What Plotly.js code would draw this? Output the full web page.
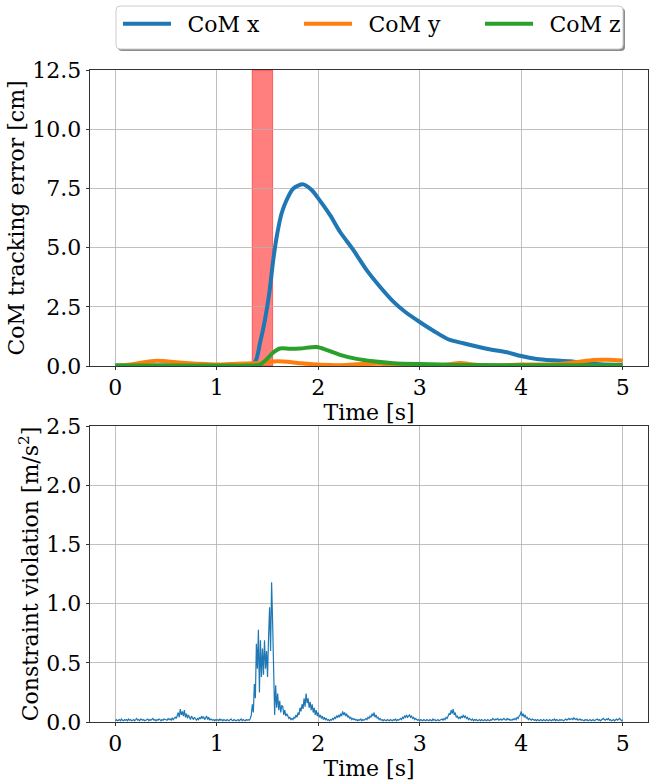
<!DOCTYPE html>
<html>
<head>
<meta charset="utf-8">
<script src="https://cdn.plot.ly/plotly-3.0.1.min.js"></script>
<style>html,body{margin:0;padding:0;background:#fff;}</style>
</head>
<body>
<div id="chart" style="width:658px;height:784px;"></div>
<script>
// ---- Top panel: CoM tracking error [cm] ----
const comXTime = [0, 0.5, 1.0, 1.3, 1.378, 1.425, 1.474, 1.517, 1.556, 1.596, 1.639, 1.688, 1.754, 1.852, 1.935, 2.0, 2.115, 2.214, 2.345, 2.477, 2.608, 2.74, 2.855, 2.996, 3.134, 3.28, 3.43, 3.66, 3.858, 4.0, 4.154, 4.318, 4.48, 4.61, 4.78, 5.0];
const comX     = [0.02, 0.02, 0.02, 0.03, 0.18, 0.96, 1.94, 3.07, 4.48, 5.6, 6.45, 7.01, 7.5, 7.67, 7.43, 7.08, 6.38, 5.67, 4.9, 4.05, 3.35, 2.72, 2.29, 1.87, 1.49, 1.13, 0.96, 0.73, 0.58, 0.42, 0.3, 0.24, 0.2, 0.13, 0.07, 0.05];

const comYTime = [0, 0.2, 0.406, 0.6, 0.8, 1.0, 1.2, 1.35, 1.45, 1.556, 1.655, 1.82, 2.02, 2.21, 2.38, 2.6, 2.8, 3.07, 3.25, 3.40, 3.55, 3.8, 4.0, 4.32, 4.55, 4.71, 4.85, 5.0];
const comY     = [0.0, 0.1, 0.22, 0.16, 0.1, 0.06, 0.1, 0.12, 0.12, 0.19, 0.19, 0.12, 0.05, 0.03, 0.07, 0.09, 0.06, 0.03, 0.05, 0.13, 0.05, 0.03, 0.06, 0.07, 0.17, 0.25, 0.26, 0.23];

const comZTime = [0, 0.5, 1.0, 1.3, 1.425, 1.49, 1.556, 1.622, 1.72, 1.82, 1.984, 2.08, 2.214, 2.378, 2.54, 2.74, 3.0, 3.2, 3.5, 4.0, 4.5, 5.0];
const comZ     = [0.02, 0.02, 0.02, 0.02, 0.06, 0.28, 0.57, 0.74, 0.73, 0.74, 0.8, 0.68, 0.47, 0.3, 0.2, 0.12, 0.08, 0.06, 0.04, 0.03, 0.03, 0.03];

const pushStart = 1.349, pushEnd = 1.55;

// ---- Bottom panel: constraint violation [m/s^2], sampled every 0.01 s ----
const sampleStep = 0.01;
const violation = [
  0.01,0.02,0.01,0.015,0.02,0.01,0.025,0.015,0.01,0.02,
  0.015,0.02,0.01,0.025,0.015,0.02,0.01,0.015,0.02,0.01,
  0.02,0.03,0.015,0.02,0.01,0.025,0.02,0.015,0.02,0.01,
  0.015,0.02,0.025,0.01,0.02,0.015,0.02,0.03,0.015,0.02,
  0.01,0.02,0.015,0.025,0.02,0.01,0.02,0.015,0.025,0.02,
  0.02,0.015,0.03,0.02,0.025,0.015,0.035,0.02,0.03,0.04,
  0.03,0.05,0.08,0.04,0.11,0.06,0.09,0.05,0.1,0.04,
  0.07,0.03,0.06,0.04,0.02,0.05,0.03,0.02,0.04,0.02,
  0.015,0.03,0.02,0.04,0.025,0.05,0.03,0.045,0.02,0.035,
  0.05,0.02,0.04,0.015,0.025,0.02,0.015,0.02,0.01,0.02,
  0.015,0.02,0.01,0.025,0.015,0.02,0.01,0.02,0.015,0.01,
  0.02,0.015,0.01,0.02,0.025,0.015,0.01,0.02,0.015,0.01,
  0.015,0.02,0.01,0.015,0.025,0.01,0.02,0.015,0.01,0.02,
  0.015,0.02,0.015,0.03,0.06,0.15,0.08,0.32,0.2,0.66,
  0.45,0.78,0.25,0.69,0.38,0.62,0.4,0.69,0.45,0.6,
  0.38,0.72,0.97,0.6,1.18,0.84,0.55,0.06,0.31,0.12,
  0.24,0.1,0.18,0.08,0.14,0.13,0.06,0.1,0.05,0.07,
  0.05,0.03,0.04,0.02,0.03,0.02,0.04,0.03,0.06,0.04,
  0.08,0.06,0.12,0.09,0.15,0.11,0.2,0.13,0.24,0.16,
  0.2,0.12,0.17,0.1,0.15,0.08,0.12,0.06,0.1,0.05,
  0.08,0.04,0.06,0.03,0.05,0.02,0.04,0.02,0.03,0.015,
  0.02,0.01,0.02,0.015,0.03,0.02,0.04,0.03,0.05,0.04,
  0.06,0.04,0.07,0.05,0.09,0.06,0.08,0.05,0.07,0.04,
  0.05,0.03,0.04,0.02,0.03,0.02,0.025,0.015,0.02,0.01,
  0.02,0.015,0.025,0.01,0.02,0.015,0.02,0.03,0.02,0.04,
  0.03,0.05,0.04,0.07,0.05,0.08,0.04,0.06,0.03,0.04,
  0.02,0.03,0.015,0.02,0.01,0.02,0.015,0.01,0.02,0.015,
  0.01,0.02,0.015,0.01,0.02,0.015,0.025,0.01,0.02,0.015,
  0.02,0.03,0.02,0.04,0.03,0.05,0.04,0.06,0.04,0.05,
  0.06,0.04,0.05,0.03,0.04,0.02,0.03,0.02,0.015,0.02,
  0.01,0.02,0.015,0.01,0.02,0.015,0.01,0.02,0.015,0.01,
  0.02,0.015,0.01,0.025,0.015,0.02,0.01,0.015,0.02,0.01,
  0.015,0.02,0.025,0.015,0.03,0.02,0.04,0.03,0.05,0.07,
  0.06,0.1,0.07,0.11,0.06,0.08,0.04,0.05,0.03,0.04,
  0.03,0.05,0.035,0.06,0.04,0.05,0.03,0.04,0.02,0.03,
  0.02,0.015,0.025,0.01,0.02,0.015,0.02,0.01,0.015,0.02,
  0.01,0.02,0.015,0.01,0.02,0.015,0.01,0.02,0.015,0.01,
  0.02,0.015,0.03,0.02,0.015,0.025,0.02,0.03,0.015,0.02,
  0.025,0.015,0.02,0.03,0.02,0.015,0.03,0.02,0.025,0.015,
  0.02,0.015,0.025,0.02,0.03,0.02,0.04,0.03,0.05,0.06,
  0.09,0.05,0.07,0.04,0.06,0.03,0.04,0.02,0.03,0.02,
  0.015,0.025,0.02,0.015,0.02,0.01,0.02,0.015,0.01,0.02,
  0.015,0.01,0.02,0.015,0.01,0.02,0.015,0.01,0.02,0.015,
  0.01,0.02,0.015,0.025,0.01,0.02,0.015,0.01,0.02,0.015,
  0.02,0.015,0.01,0.02,0.025,0.015,0.02,0.03,0.02,0.025,
  0.03,0.02,0.035,0.025,0.02,0.03,0.015,0.02,0.025,0.015,
  0.02,0.015,0.01,0.02,0.015,0.02,0.01,0.015,0.02,0.01,
  0.015,0.02,0.01,0.015,0.02,0.025,0.015,0.02,0.01,0.015,
  0.02,0.03,0.02,0.015,0.025,0.02,0.03,0.015,0.02,0.01,
  0.015,0.02,0.01,0.02,0.025,0.015,0.02,0.03,0.02,0.01,
  0.02
];
const violationTime = violation.map((_, i) => +(i * sampleStep).toFixed(2));

const xTickVals = [0, 1, 2, 3, 4, 5];
const xTickText = ['0', '1', '2', '3', '4', '5'];
const seriesNames = ['CoM x', 'CoM y', 'CoM z'];

const colors = {x: '#1f77b4', y: '#ff7f0e', z: '#2ca02c'};
const pad = '\u00A0\u2009';

// ---- traces ----
const traces = [
  {x: comXTime, y: comX, name: pad + seriesNames[0], type: 'scatter', mode: 'lines',
   line: {color: colors.x, width: 4, shape: 'spline', smoothing: 0.8}, xaxis: 'x', yaxis: 'y'},
  {x: comYTime, y: comY, name: pad + seriesNames[1], type: 'scatter', mode: 'lines',
   line: {color: colors.y, width: 4, shape: 'spline', smoothing: 0.8}, xaxis: 'x', yaxis: 'y'},
  {x: comZTime, y: comZ, name: pad + seriesNames[2], type: 'scatter', mode: 'lines',
   line: {color: colors.z, width: 4, shape: 'spline', smoothing: 0.8}, xaxis: 'x', yaxis: 'y'},
  {x: violationTime, y: violation, name: 'violation', type: 'scatter', mode: 'lines',
   line: {color: colors.x, width: 1.2}, xaxis: 'x2', yaxis: 'y2', showlegend: false}
];

// ---- layout helpers (pixel -> paper) ----
const M = {l: 90, r: 10, t: 70, b: 62, autoexpand: false};
const W = 658, H = 784;
const PW = W - M.l - M.r, PH = H - M.t - M.b;
const px2x = px => (px - M.l) / PW;
const px2y = py => (H - M.b - py) / PH;
function roundRect(x0, y0, x1, y1, r) {
  const X = px2x, Y = px2y;
  return `M${X(x0 + r)},${Y(y0)} L${X(x1 - r)},${Y(y0)} Q${X(x1)},${Y(y0)} ${X(x1)},${Y(y0 + r)} ` +
         `L${X(x1)},${Y(y1 - r)} Q${X(x1)},${Y(y1)} ${X(x1 - r)},${Y(y1)} ` +
         `L${X(x0 + r)},${Y(y1)} Q${X(x0)},${Y(y1)} ${X(x0)},${Y(y1 - r)} ` +
         `L${X(x0)},${Y(y0 + r)} Q${X(x0)},${Y(y0)} ${X(x0 + r)},${Y(y0)} Z`;
}

const FONT = 'DejaVu Serif, Liberation Serif, serif';
function xAxis(anchor) {
  return {
    anchor: anchor, domain: [0, 1], range: [-0.25, 5.25],
    tickvals: xTickVals, ticktext: xTickText,
    showgrid: true, gridcolor: '#b0b0b0', gridwidth: 0.8,
    showline: true, linecolor: '#000', linewidth: 0.8, mirror: true,
    ticks: 'outside', ticklen: 3.5, tickwidth: 0.8, tickcolor: '#000',
    ticklabelstandoff: -2,
    zeroline: false, automargin: false,
    tickfont: {family: FONT, size: 22, color: '#000'},
    title: {text: 'Time [s]', font: {family: FONT, size: 22, color: '#000'}, standoff: 3}
  };
}
function yAxis(anchor, domain, range, dtick, title) {
  return {
    anchor: anchor, domain: domain, range: range, dtick: dtick, tick0: 0, tickformat: '.1f',
    showgrid: true, gridcolor: '#b0b0b0', gridwidth: 0.8,
    showline: true, linecolor: '#000', linewidth: 0.8, mirror: true,
    ticks: 'outside', ticklen: 3.5, tickwidth: 0.8, tickcolor: '#000',
    zeroline: false, automargin: false,
    tickfont: {family: FONT, size: 22, color: '#000'},
    title: {text: title, font: {family: FONT, size: 22, color: '#000'}, standoff: 1}
  };
}

const layout = {
  width: W, height: H,
  margin: M,
  paper_bgcolor: '#fff', plot_bgcolor: '#fff',
  font: {family: FONT, size: 22, color: '#000'},
  hovermode: false,
  xaxis: xAxis('y'),
  yaxis: yAxis('x', [px2y(366), 1], [0, 12.5], 2.5, 'CoM tracking error [cm]'),
  xaxis2: xAxis('y2'),
  yaxis2: yAxis('x2', [0, px2y(426)], [0, 2.5], 0.5, 'Constraint violation [m/s<sup>2</sup>]'),
  showlegend: true,
  legend: {
    orientation: 'h', x: px2x(118), y: px2y(3), xanchor: 'left', yanchor: 'top',
    bgcolor: 'rgba(0,0,0,0)', borderwidth: 0,
    font: {family: FONT, size: 22, color: '#000'},
    entrywidth: 118, entrywidthmode: 'pixels', itemwidth: 48
  },
  shapes: [
    {type: 'rect', xref: 'x', yref: 'y domain', x0: pushStart, x1: pushEnd, y0: 0, y1: 1,
     fillcolor: 'rgba(255,0,0,0.5)', line: {color: 'rgba(255,0,0,0.5)', width: 1}, layer: 'below'},
    {type: 'path', xref: 'paper', yref: 'paper', path: roundRect(118, 8, 625, 51, 4),
     fillcolor: 'rgba(0,0,0,0.45)', line: {width: 0}, layer: 'above'},
    {type: 'path', xref: 'paper', yref: 'paper', path: roundRect(116, 6, 623, 49, 4),
     fillcolor: '#ffffff', line: {color: '#cccccc', width: 1}, layer: 'above'}
  ]
};

Plotly.newPlot('chart', traces, layout, {displayModeBar: false, staticPlot: true});
</script>
</body>
</html>
